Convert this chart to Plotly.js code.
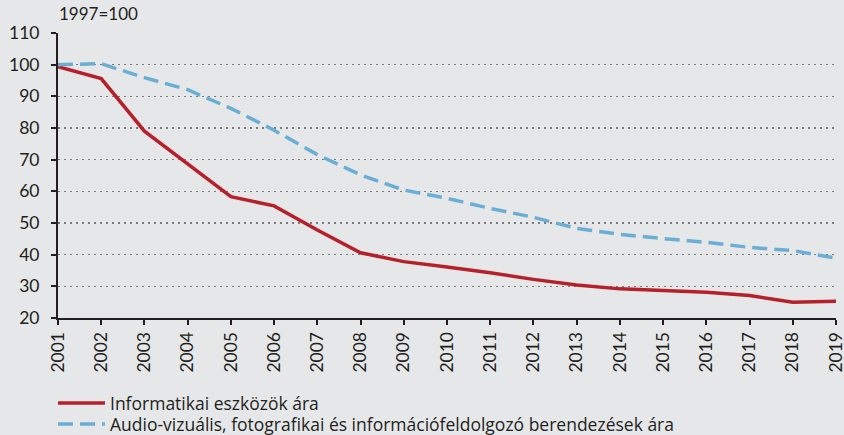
<!DOCTYPE html>
<html>
<head>
<meta charset="utf-8">
<script src="https://cdn.plot.ly/plotly-3.0.1.min.js"></script>
<style>html,body{margin:0;padding:0;background:#e6e7e9;overflow:hidden;}</style>
</head>
<body>
<div id="chart" style="width:844px;height:475px;"></div>
<script>
const years = ["2001","2002","2003","2004","2005","2006","2007","2008","2009","2010","2011","2012","2013","2014","2015","2016","2017","2018","2019"];
const infoPrices = [99.4,95.6,79.0,68.8,58.3,55.4,47.8,40.6,37.8,36.1,34.3,32.2,30.4,29.2,28.6,28.1,27.1,25.0,25.3];
const avPrices = [100,100.3,95.9,92.1,86.2,79.3,71.6,65.2,60.4,57.8,54.6,51.8,48.3,46.4,45.1,43.9,42.3,41.3,38.9];
const seriesNames = ["Informatikai eszközök ára","Audio-vizuális, fotografikai és információfeldolgozó berendezések ára"];
const yTicks = [20,30,40,50,60,70,80,90,100,110];

const traces = [
  {x: years, y: infoPrices, name: seriesNames[0], type: "scatter", mode: "lines",
   legend: "legend", line: {color: "#b5202a", width: 3.5}},
  {x: years, y: avPrices, name: seriesNames[1], type: "scatter", mode: "lines",
   legend: "legend2", line: {color: "#6aaed6", width: 3.5, dash: "15px,7px"}}
];

const plotH = 285;
const legendFont = {size: 17.5, family: "Open Sans, sans-serif", color: "#231f20"};
const legendBase = {
  orientation: "v", x: -5/778, xanchor: "left", yanchor: "middle",
  bgcolor: "rgba(0,0,0,0)", itemwidth: 47, font: legendFont
};

const layout = {
  width: 844, height: 475,
  paper_bgcolor: "#e6e7e9", plot_bgcolor: "#e6e7e9",
  margin: {l: 58, r: 8, t: 33, b: 157},
  font: {family: "Lato, sans-serif", color: "#231f20"},
  xaxis: {
    type: "category", range: [0, years.length - 1],
    showline: true, linecolor: "#231f20", linewidth: 2,
    ticks: "outside", ticklen: 5, tickwidth: 2, tickcolor: "#231f20",
    tickangle: -90, tickfont: {size: 17.5, family: "Lato, sans-serif", color: "#231f20"},
    showgrid: false, zeroline: false, fixedrange: true, automargin: false
  },
  yaxis: {
    range: [20, 110], tickvals: yTicks, ticktext: yTicks.map(String),
    showline: true, linecolor: "#231f20", linewidth: 2,
    ticks: "outside", ticklen: 5, tickwidth: 2, tickcolor: "#231f20",
    ticklabelstandoff: 8,
    tickfont: {size: 17.5, family: "Lato, sans-serif", color: "#231f20"},
    showgrid: true, gridcolor: "#7a7a7a", gridwidth: 1.5, griddash: "2px,4px",
    zeroline: false, fixedrange: true, automargin: false
  },
  showlegend: true,
  legend: Object.assign({}, legendBase, {y: (318 - 403) / plotH}),
  legend2: Object.assign({}, legendBase, {y: (318 - 424) / plotH}),
  annotations: [
    {text: "1997=100", xref: "paper", yref: "paper", x: 0, y: 1 + 7/plotH, xanchor: "left", yanchor: "bottom",
     showarrow: false, xshift: -1, font: {size: 17, family: "Lato, sans-serif", color: "#231f20"}}
  ]
};

Plotly.newPlot("chart", traces, layout, {displayModeBar: false, staticPlot: true});
</script>
</body>
</html>
